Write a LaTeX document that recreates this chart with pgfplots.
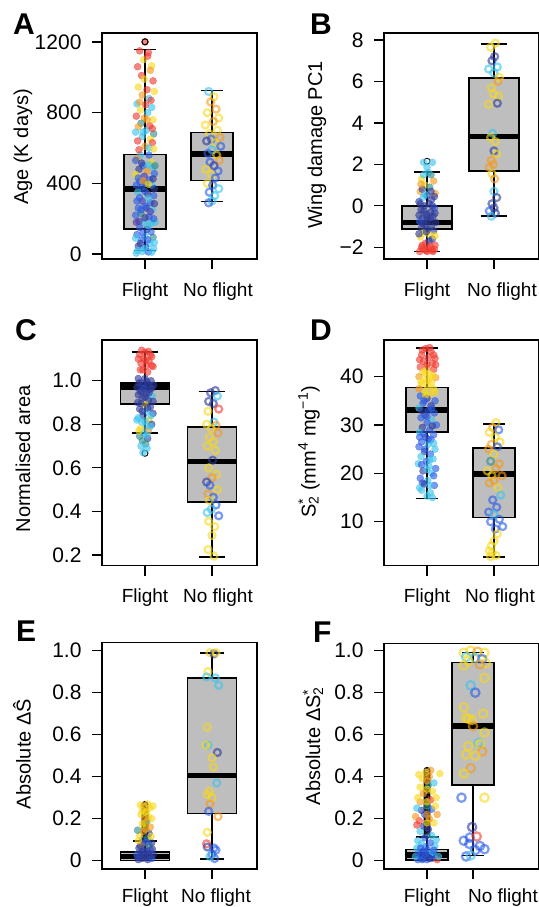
\documentclass[border=0pt]{standalone}
\usepackage{fontspec}
\setmainfont{Liberation Sans}
\usepackage{pgfplots}
\pgfplotsset{compat=1.18}

\definecolor{cR}{HTML}{F03C32}
\definecolor{cO}{HTML}{F59A1E}
\definecolor{cY}{HTML}{F8D81A}
\definecolor{cC}{HTML}{3CC4EE}
\definecolor{cB}{HTML}{2A5CE8}
\definecolor{cN}{HTML}{2E3C9C}
\definecolor{cT}{HTML}{2F8F8A}
\definecolor{cP}{HTML}{4A3AB0}
\definecolor{boxgray}{HTML}{BEBEBE}

\pgfplotsset{
  panel/.style={
    scale only axis, width=155pt, height=226pt,
    xmin=0.358, xmax=2.672,
    xtick={1,2}, xticklabels={Flight,\hspace*{12pt}No flight},
    axis line style={line width=1.2pt},
    tick align=outside, major tick length=10pt,
    tick style={line width=1.2pt, black},
    xtick pos=bottom, ytick pos=left,
    xticklabel style={font=\fontsize{19}{22}\selectfont, yshift=-10pt},
    yticklabel style={font=\fontsize{21}{24}\selectfont, xshift=-7pt},
    /pgf/number format/assume math mode=true,
  },
  pts/.style={only marks, scatter, scatter src=explicit symbolic,
    scatter/classes={R={cR},O={cO},Y={cY},C={cC},B={cB},N={cN},T={cT},P={cP}}},
  fl/.style={pts, mark=*, mark size=3.5pt, mark options={opacity=0.62}},
  nf/.style={pts, mark=o, mark size=3.5pt, mark options={line width=2.2pt, opacity=0.62}},
  bf/.style={fill=boxgray, draw=none},
  bl/.style={draw=black, line width=1.6pt, line cap=rect, line join=miter},
  md/.style={black, line width=5.5pt},
  wk/.style={black, line width=1.6pt, unbounded coords=jump},
  outl/.style={only marks, mark=o, mark size=3pt, mark options={line width=0.9pt, black}},
}

\begin{document}
\begin{tikzpicture}
\useasboundingbox (0pt,0pt) rectangle (538pt,907pt);

% ---------------- A
\begin{axis}[panel, at={(102pt,648pt)}, ymin=-28, ymax=1251,
  ytick={0,400,800,1200}, yticklabels={0,400,800,1200}]
\addplot[bf] coordinates {(0.685,141) (1.315,141) (1.315,563) (0.685,563)};
\addplot[bf] coordinates {(1.685,416) (2.315,416) (2.315,688) (1.685,688)};
\addplot[outl] coordinates {(1,1201)};
\addplot[fl] table[meta=c] {
x y c
0.92 1150 R
1.05 1140 R
0.98 1100 Y
1.10 1065 Y
1.08 1040 O
0.95 1010 R
1.12 980 R
0.90 945 Y
1.03 930 R
1.14 920 Y
0.96 900 O
1.06 880 C
0.88 850 C
1.01 845 R
1.10 830 C
0.93 815 Y
1.04 800 C
0.87 780 R
0.99 770 O
1.12 760 Y
0.94 740 T
1.07 725 R
0.90 720 O
1.02 700 C
1.13 680 T
0.96 665 C
1.08 650 Y
0.89 640 R
1.11 630 R
1.00 610 O
0.93 560 C
1.06 560 B
0.88 540 O
1.09 520 Y
0.97 500 B
1.12 490 C
0.91 480 N
1.03 470 O
1.14 455 B
0.86 450 Y
0.99 440 P
1.07 420 B
0.92 410 B
1.01 400 N
1.10 390 C
0.95 380 B
0.89 350 C
1.04 340 N
1.13 330 B
0.96 300 P
1.08 290 B
0.90 260 B
1.02 260 N
1.11 250 C
0.94 230 T
1.06 210 B
0.87 180 P
0.98 180 C
1.09 175 C
1.15 180 C
0.92 150 B
1.03 140 N
0.88 110 B
1.00 100 C
1.12 95 T
0.95 80 B
1.07 60 C
0.90 45 N
1.01 40 B
1.13 30 C
0.96 15 C
1.05 12 B
0.89 20 C
0.86 530 B
0.95 515 N
1.05 505 C
1.15 500 T
0.90 430 B
1.12 425 N
0.97 415 O
1.05 395 Y
0.87 390 B
1.14 370 N
1.00 355 B
0.92 320 B
1.05 315 C
0.88 300 B
1.14 285 N
1.00 270 B
0.94 250 B
1.08 240 P
0.86 220 B
1.00 205 N
1.13 200 B
0.91 185 P
1.05 160 C
0.97 120 B
1.09 125 B
0.86 90 C
1.04 80 B
0.93 60 N
1.14 65 C
0.99 30 C
1.10 10 C
0.87 5 C
1.06 600 C
0.91 590 R
1.13 595 Y
0.97 690 C
1.11 710 R
0.86 690 C
1.03 760 O
0.92 860 O
1.09 870 R
0.99 990 Y
1.04 1120 R
0.89 1060 R
1.00 1201 R
};
\addplot[nf] table[meta=c] {
x y c
1.95 920 C
2.03 890 Y
1.98 860 O
2.06 820 O
1.93 800 Y
2.10 770 Y
2.02 750 O
1.90 730 Y
2.08 700 Y
1.96 680 Y
2.12 660 O
1.99 650 B
1.92 640 N
2.05 630 Y
2.13 610 B
2.00 590 C
1.94 570 B
2.07 560 Y
2.11 530 O
1.97 520 B
2.03 500 N
1.91 480 Y
2.09 470 B
1.99 450 Y
2.05 430 B
1.93 400 Y
2.01 390 B
2.10 370 C
1.96 350 B
2.04 330 C
2.00 300 C
1.95 290 B
};
\addplot[outl] coordinates {(1,1201)};
\addplot[bl] coordinates {(0.685,141) (1.315,141) (1.315,563) (0.685,563) (0.685,141)};
\addplot[bl] coordinates {(1.685,416) (2.315,416) (2.315,688) (1.685,688) (1.685,416)};
\addplot[md] coordinates {(0.685,369) (1.315,369)};
\addplot[md] coordinates {(1.685,565) (2.315,565)};
\addplot[wk] coordinates {(1,563) (1,1157) (1,nan) (0.83,1157) (1.17,1157) (1,nan) (1,141) (1,19) (1,nan) (0.83,19) (1.17,19)};
\addplot[wk] coordinates {(2,688) (2,925) (2,nan) (1.83,925) (2.17,925) (2,nan) (2,416) (2,298) (2,nan) (1.83,298) (2.17,298)};
\end{axis}

% ---------------- B
\begin{axis}[panel, at={(384pt,648pt)}, ymin=-2.563, ymax=8.338,
  xticklabels={Flight,\hspace*{16pt}No flight},
  ytick={-2,0,2,4,6,8}, yticklabels={−2,0,2,4,6,8}]
\addplot[bf] coordinates {(0.625,-1.13) (1.375,-1.13) (1.375,0.0) (0.625,0.0)};
\addplot[bf] coordinates {(1.625,1.68) (2.375,1.68) (2.375,6.18) (1.625,6.18)};
\addplot[outl] coordinates {(1,2.15)};
\addplot[fl] table[meta=c] {
x y c
0.95 2.1 C
1.08 2.1 C
1.02 1.6 C
0.92 1.3 Y
1.10 1.2 O
0.97 1.0 Y
1.04 0.9 T
0.90 0.7 O
1.12 0.6 O
1.00 0.5 N
0.94 0.4 C
1.07 0.3 N
0.88 0.2 N
1.03 0.1 N
0.96 0.0 N
1.11 -0.1 B
0.91 -0.2 N
1.05 -0.3 N
0.99 -0.4 N
1.09 -0.5 N
0.93 -0.6 N
1.02 -0.7 N
0.89 -0.75 B
1.13 -0.8 N
0.97 -0.9 N
1.06 -1.0 N
0.92 -1.05 N
1.01 -1.15 N
1.10 -1.2 N
0.95 -1.3 Y
1.04 -1.4 Y
0.90 -1.5 Y
1.08 -1.6 N
0.98 -1.8 R
1.12 -1.9 R
0.92 -2.0 R
1.03 -2.05 R
0.95 -2.1 R
1.07 -2.15 R
0.89 -2.2 R
1.00 -2.2 R
1.11 -2.1 R
0.93 0.8 N
1.06 0.7 N
0.97 0.55 C
1.11 0.45 N
0.90 0.1 N
1.08 0.0 N
0.95 -0.25 N
1.00 -0.55 N
0.88 -0.45 N
1.12 -0.35 N
0.94 -0.85 N
1.05 -0.6 N
0.99 -1.25 N
1.12 -1.45 Y
0.88 -1.35 N
1.03 -1.7 N
0.93 -1.9 R
1.05 -1.95 R
0.99 -2.15 R
1.09 -2.2 R
0.95 1.5 C
1.06 1.5 T
1.00 1.85 C
0.91 1.05 O
};
\addplot[nf] table[meta=c] {
x y c
2.02 7.85 Y
1.95 7.65 Y
2.01 7.2 N
1.97 7.0 N
2.05 6.7 C
1.92 6.6 C
2.00 6.4 C
2.08 6.2 Y
2.06 6.0 O
1.96 5.7 Y
1.99 5.4 Y
2.07 5.3 Y
2.05 4.95 N
1.92 4.9 Y
1.98 3.5 C
1.95 3.3 Y
2.02 3.1 Y
2.00 2.65 N
2.04 2.5 Y
1.96 2.2 O
1.99 2.0 O
1.93 1.85 O
1.97 1.55 Y
2.01 1.3 O
2.00 0.7 C
2.04 0.4 N
1.97 0.1 N
2.00 -0.1 N
1.93 -0.25 B
2.02 -0.35 N
1.96 -0.5 C
};
\addplot[bl] coordinates {(0.625,-1.13) (1.375,-1.13) (1.375,0.0) (0.625,0.0) (0.625,-1.13)};
\addplot[bl] coordinates {(1.625,1.68) (2.375,1.68) (2.375,6.18) (1.625,6.18) (1.625,1.68)};
\addplot[md] coordinates {(0.625,-0.81) (1.375,-0.81)};
\addplot[md] coordinates {(1.625,3.35) (2.375,3.35)};
\addplot[wk] coordinates {(1,0.0) (1,1.62) (1,nan) (0.805,1.62) (1.195,1.62) (1,nan) (1,-1.13) (1,-2.21) (1,nan) (0.805,-2.21) (1.195,-2.21)};
\addplot[wk] coordinates {(2,6.18) (2,7.82) (2,nan) (1.805,7.82) (2.195,7.82) (2,nan) (2,1.68) (2,-0.49) (2,nan) (1.805,-0.49) (2.195,-0.49)};
\end{axis}

% ---------------- C
\begin{axis}[panel, at={(102pt,341.3pt)}, height=225.7pt, ymin=0.151, ymax=1.187,
  ytick={0.2,0.4,0.6,0.8,1.0}, yticklabels={0.2,0.4,0.6,0.8,1.0}]
\addplot[bf] coordinates {(0.635,0.893) (1.365,0.893) (1.365,0.989) (0.635,0.989)};
\addplot[bf] coordinates {(1.635,0.443) (2.365,0.443) (2.365,0.789) (1.635,0.789)};
\addplot[outl] coordinates {(1,0.667)};
\addplot[fl] table[meta=c] {
x y c
0.95 1.14 R
1.05 1.135 R
1.00 1.13 R
0.92 1.12 R
1.10 1.11 R
0.98 1.10 R
1.06 1.09 R
0.94 1.08 R
1.02 1.07 R
1.12 1.065 R
0.97 1.05 R
1.04 1.04 R
0.90 1.01 N
1.00 1.01 N
1.09 1.00 N
0.95 0.99 N
1.04 0.985 N
1.13 0.98 N
0.88 0.97 N
0.98 0.965 B
1.07 0.96 N
0.93 0.95 N
1.02 0.94 N
1.11 0.93 C
0.96 0.92 N
1.05 0.91 N
0.89 0.90 N
1.00 0.89 Y
1.08 0.88 N
0.92 0.87 N
1.03 0.86 C
1.12 0.85 N
0.97 0.84 N
0.90 0.83 C
1.06 0.82 Y
0.95 0.81 C
1.10 0.80 N
1.01 0.79 C
0.93 0.78 Y
1.05 0.77 O
0.98 0.76 C
0.92 0.745 T
1.04 0.735 N
0.96 0.725 T
1.01 0.71 T
0.94 0.70 C
1.03 0.69 C
0.97 0.67 C
0.91 0.99 N
1.03 0.995 N
1.10 0.965 N
0.96 0.955 N
1.06 0.945 N
0.90 0.935 N
1.00 0.925 N
1.12 0.905 N
0.94 0.895 N
1.04 0.875 N
0.96 0.86 N
1.09 0.84 C
0.88 0.82 C
1.00 0.815 C
1.08 0.79 C
0.91 0.77 Y
1.03 0.75 C
0.90 1.10 R
1.08 1.12 R
1.01 1.095 R
0.93 1.05 R
1.10 1.07 R
};
\addplot[nf] table[meta=c] {
x y c
2.05 0.955 N
1.98 0.945 N
2.08 0.93 C
1.95 0.905 N
2.02 0.895 N
2.10 0.87 R
1.94 0.86 Y
2.03 0.81 C
1.92 0.80 Y
2.06 0.795 O
1.99 0.78 Y
2.09 0.76 O
1.96 0.74 Y
2.02 0.72 Y
1.93 0.70 Y
2.05 0.68 Y
2.01 0.635 N
1.95 0.60 Y
2.07 0.57 Y
2.00 0.555 O
1.92 0.535 N
1.97 0.52 B
2.08 0.50 Y
1.94 0.48 O
2.02 0.465 B
1.96 0.45 Y
2.06 0.43 B
1.99 0.41 C
1.93 0.395 C
2.10 0.38 B
1.95 0.355 Y
2.04 0.33 Y
2.00 0.29 Y
1.94 0.225 Y
2.03 0.195 Y
};
\addplot[bl] coordinates {(0.635,0.893) (1.365,0.893) (1.365,0.989) (0.635,0.989) (0.635,0.893)};
\addplot[bl] coordinates {(1.635,0.443) (2.365,0.443) (2.365,0.789) (1.635,0.789) (1.635,0.443)};
\addplot[md] coordinates {(0.635,0.971) (1.365,0.971)};
\addplot[md] coordinates {(1.635,0.630) (2.365,0.630)};
\addplot[wk] coordinates {(1,0.989) (1,1.132) (1,nan) (0.8,1.132) (1.2,1.132) (1,nan) (1,0.893) (1,0.761) (1,nan) (0.8,0.761) (1.2,0.761)};
\addplot[wk] coordinates {(2,0.789) (2,0.950) (2,nan) (1.8,0.950) (2.2,0.950) (2,nan) (2,0.443) (2,0.191) (2,nan) (1.8,0.191) (2.2,0.191)};
\end{axis}

% ---------------- D
\begin{axis}[panel, at={(384pt,341.3pt)}, height=225.7pt, ymin=0.9, ymax=47.59,
  ytick={10,20,30,40}, yticklabels={10,20,30,40}]
\addplot[bf] coordinates {(0.685,28.5) (1.315,28.5) (1.315,37.8) (0.685,37.8)};
\addplot[bf] coordinates {(1.685,10.9) (2.315,10.9) (2.315,25.3) (1.685,25.3)};
\addplot[fl] table[meta=c] {
x y c
0.98 45.8 R
1.06 45.2 R
0.92 44.5 R
1.02 44.0 R
1.12 43.8 R
0.95 43.2 R
1.08 42.8 R
0.90 42.0 R
1.00 41.8 O
1.10 41.5 R
0.94 41.0 Y
1.04 40.5 Y
0.88 40.0 O
0.99 39.5 Y
1.13 39.8 O
1.07 38.8 Y
0.92 38.5 Y
1.01 38.0 Y
1.10 37.5 Y
0.96 37.0 Y
1.05 36.5 Y
0.90 36.0 B
1.00 35.5 N
1.12 35.0 B
0.94 34.5 B
1.06 34.0 N
0.88 33.5 C
1.02 33.0 B
1.11 32.5 B
0.97 32.0 N
0.91 31.5 B
1.07 31.0 C
1.00 30.5 B
1.14 30.0 B
0.93 29.5 N
1.04 29.0 B
0.89 28.5 C
1.10 28.0 B
0.98 27.5 N
1.06 27.0 B
0.92 26.5 B
1.02 26.0 C
0.88 25.5 B
1.12 25.0 C
0.96 24.5 N
1.05 24.0 B
0.91 23.5 C
1.09 23.0 C
0.99 22.5 B
0.87 22.0 C
1.03 21.5 C
1.13 21.0 B
0.94 20.5 N
1.07 20.0 C
0.90 19.0 B
1.01 18.5 C
0.93 18.0 B
1.11 17.5 B
0.89 17.0 C
1.05 16.0 C
1.08 15.0 C
0.93 45.5 R
1.04 46.0 R
1.10 44.5 R
0.89 43.5 R
1.00 42.5 R
1.13 42.5 R
0.97 40.8 Y
1.09 40.2 Y
0.91 39.0 Y
1.02 39.2 Y
0.88 37.5 O
0.98 36.2 Y
1.12 36.8 Y
0.96 35.0 B
1.07 33.5 B
0.92 33.0 N
1.00 31.8 B
1.08 29.8 N
0.95 28.2 B
1.02 27.0 B
0.89 27.5 B
1.10 26.2 C
0.97 25.0 B
1.04 22.8 C
0.92 21.8 B
1.00 20.8 C
1.10 19.5 B
0.96 17.8 N
1.04 17.5 C
0.92 16.5 C
1.00 15.3 C
};
\addplot[nf] table[meta=c] {
x y c
2.03 30.5 Y
1.98 29.5 O
2.07 29.0 B
1.93 28.5 Y
2.02 27.5 Y
2.09 26.5 Y
1.96 26.0 O
2.05 25.5 B
1.92 25.0 O
2.00 24.0 Y
1.95 22.5 T
2.08 22.0 O
2.03 21.0 O
1.90 20.5 Y
1.97 19.5 Y
2.12 19.5 O
2.00 18.5 O
1.93 18.0 O
2.06 17.0 Y
2.10 15.5 C
1.98 14.5 B
2.04 13.0 B
1.92 12.0 B
2.00 11.5 C
2.08 10.5 B
1.95 10.0 B
2.13 9.0 B
2.02 8.5 B
2.05 7.5 Y
2.00 6.0 Y
1.96 5.0 Y
1.93 4.0 Y
1.97 3.5 Y
2.03 3.0 Y
1.95 2.8 Y
};
\addplot[bl] coordinates {(0.685,28.5) (1.315,28.5) (1.315,37.8) (0.685,37.8) (0.685,28.5)};
\addplot[bl] coordinates {(1.685,10.9) (2.315,10.9) (2.315,25.3) (1.685,25.3) (1.685,10.9)};
\addplot[md] coordinates {(0.685,33.1) (1.315,33.1)};
\addplot[md] coordinates {(1.685,19.9) (2.315,19.9)};
\addplot[wk] coordinates {(1,37.8) (1,45.9) (1,nan) (0.84,45.9) (1.16,45.9) (1,nan) (1,28.5) (1,14.8) (1,nan) (0.84,14.8) (1.16,14.8)};
\addplot[wk] coordinates {(2,25.3) (2,30.2) (2,nan) (1.84,30.2) (2.16,30.2) (2,nan) (2,10.9) (2,2.76) (2,nan) (1.84,2.76) (2.16,2.76)};
\end{axis}

% ---------------- E
\begin{axis}[panel, at={(102pt,38pt)}, height=226.7pt, ymin=-0.0397, ymax=1.0397,
  xticklabels={Flight,\hspace*{8pt}No flight}, xticklabel style={yshift=4pt},
  ytick={0,0.2,0.4,0.6,0.8,1.0}, yticklabels={0,0.2,0.4,0.6,0.8,1.0}]
\addplot[bf] coordinates {(0.635,0.0) (1.365,0.0) (1.365,0.040) (0.635,0.040)};
\addplot[bf] coordinates {(1.635,0.224) (2.365,0.224) (2.365,0.870) (1.635,0.870)};
\addplot[outl] coordinates {(1,0.100) (1,0.106) (1,0.112) (1,0.118) (1,0.124) (1,0.130) (1,0.136) (1,0.142) (1,0.148) (1,0.154) (1,0.160) (1,0.166) (1,0.172) (1,0.178) (1,0.184) (1,0.190) (1,0.196) (1,0.202) (1,0.208) (1,0.214) (1,0.220) (1,0.226) (1,0.232) (1,0.238) (1,0.244) (1,0.250) (1,0.256) (1,0.262) (1,0.268)};
\addplot[fl] table[meta=c] {
x y c
0.90 0.005 N
0.96 0.01 N
1.04 0.005 N
1.10 0.01 B
0.93 0.02 N
1.00 0.015 N
1.07 0.02 N
0.88 0.03 B
0.98 0.03 N
1.12 0.03 N
0.94 0.04 N
1.03 0.045 N
1.08 0.05 B
0.91 0.06 N
1.00 0.065 N
1.06 0.075 T
0.95 0.08 O
1.10 0.085 N
0.97 0.10 N
1.04 0.11 T
0.92 0.12 Y
1.06 0.13 N
0.89 0.145 T
1.01 0.15 Y
1.08 0.16 O
0.96 0.175 Y
1.03 0.19 T
1.10 0.20 Y
0.94 0.22 Y
1.02 0.235 Y
1.07 0.25 Y
0.98 0.26 O
1.12 0.26 Y
0.93 0.265 Y
1.04 0.27 Y
0.89 0.015 N
1.05 0.035 N
0.97 0.045 N
1.11 0.055 N
0.93 0.07 N
1.02 0.09 B
0.90 0.095 Y
1.09 0.115 Y
0.98 0.14 O
1.05 0.21 Y
0.96 0.24 Y
1.00 0.18 Y
1.00 0.20 O
1.00 0.23 Y
};
\addplot[nf] table[meta=c] {
x y c
1.97 0.99 Y
2.03 0.985 N
2.06 0.99 Y
1.94 0.90 Y
1.92 0.875 C
2.05 0.87 C
2.10 0.835 C
1.93 0.635 Y
1.94 0.55 C
1.91 0.55 Y
2.08 0.515 N
2.00 0.49 Y
2.02 0.445 Y
2.07 0.37 C
1.96 0.33 Y
1.93 0.315 Y
2.00 0.30 Y
1.97 0.27 O
1.95 0.235 B
2.09 0.21 O
1.93 0.135 Y
1.92 0.08 R
1.93 0.065 N
2.03 0.06 B
2.06 0.05 B
2.00 0.03 B
2.04 0.01 B
1.97 0.02 C
};
\addplot[bl] coordinates {(0.635,0.0) (1.365,0.0) (1.365,0.040) (0.635,0.040) (0.635,0.0)};
\addplot[bl] coordinates {(1.635,0.224) (2.365,0.224) (2.365,0.870) (1.635,0.870) (1.635,0.224)};
\addplot[md] coordinates {(0.635,0.019) (1.365,0.019)};
\addplot[md] coordinates {(1.635,0.406) (2.365,0.406)};
\addplot[wk] coordinates {(1,0.040) (1,0.094) (1,nan) (0.815,0.094) (1.185,0.094)};
\addplot[wk] coordinates {(2,0.870) (2,0.990) (2,nan) (1.815,0.990) (2.185,0.990) (2,nan) (2,0.224) (2,0.008) (2,nan) (1.815,0.008) (2.185,0.008)};
\end{axis}

% ---------------- F
\begin{axis}[panel, at={(384pt,38pt)}, height=225.7pt, xmin=0.065, xmax=3.435, ymin=-0.0397, ymax=1.035,
  xticklabels={Flight,\hspace*{60pt}No flight}, xticklabel style={yshift=4pt},
  ytick={0,0.2,0.4,0.6,0.8,1.0}, yticklabels={0,0.2,0.4,0.6,0.8,1.0}]
\addplot[bf] coordinates {(0.545,0.003) (1.455,0.003) (1.455,0.054) (0.545,0.054)};
\addplot[bf] coordinates {(1.545,0.360) (2.455,0.360) (2.455,0.943) (1.545,0.943)};
\addplot[outl] coordinates {(1,0.120) (1,0.128) (1,0.136) (1,0.144) (1,0.152) (1,0.160) (1,0.168) (1,0.176) (1,0.184) (1,0.192) (1,0.200) (1,0.208) (1,0.216) (1,0.224) (1,0.232) (1,0.240) (1,0.248) (1,0.256) (1,0.264) (1,0.272) (1,0.280) (1,0.288) (1,0.296) (1,0.304) (1,0.312) (1,0.320) (1,0.328) (1,0.336) (1,0.344) (1,0.352) (1,0.360) (1,0.368) (1,0.376) (1,0.384) (1,0.392) (1,0.400) (1,0.408) (1,0.416) (1,0.424) (1,0.430)};
\addplot[fl] table[meta=c] {
x y c
0.80 0.005 B
0.90 0.01 N
1.00 0.005 B
1.10 0.01 B
1.22 0.005 R
0.75 0.02 C
0.85 0.025 B
0.95 0.02 N
1.05 0.03 B
1.15 0.025 B
1.25 0.02 C
0.82 0.04 B
0.92 0.045 N
1.02 0.05 B
1.12 0.04 C
0.78 0.06 C
0.97 0.065 B
1.17 0.07 C
0.88 0.08 C
1.07 0.085 B
0.80 0.095 C
1.20 0.10 C
0.95 0.11 B
1.10 0.12 C
0.85 0.14 C
1.03 0.15 N
0.78 0.17 R
0.93 0.165 N
1.15 0.18 Y
0.83 0.19 R
1.05 0.20 O
0.75 0.21 O
0.95 0.22 B
1.22 0.22 O
0.88 0.24 N
1.10 0.245 B
0.78 0.25 C
1.00 0.26 T
1.18 0.26 Y
0.85 0.28 O
1.08 0.29 R
0.80 0.30 Y
1.20 0.30 Y
0.92 0.32 O
1.12 0.33 Y
0.85 0.35 Y
1.03 0.36 T
1.15 0.37 C
0.90 0.39 Y
1.05 0.40 O
0.82 0.41 Y
1.28 0.415 Y
0.97 0.42 Y
1.08 0.43 O
1.00 0.18 Y
1.00 0.22 O
1.00 0.28 Y
1.00 0.34 Y
1.00 0.38 O
0.90 0.005 B
1.05 0.012 N
0.97 0.035 B
1.15 0.05 B
0.86 0.06 B
};
\addplot[nf, mark size=4.2pt] table[meta=c] {
x y c
1.80 0.99 Y
1.95 1.00 Y
2.10 0.995 O
2.25 0.99 Y
1.85 0.97 C
2.05 0.965 C
2.20 0.96 B
1.90 0.95 Y
2.28 0.94 Y
2.15 0.935 O
1.80 0.93 Y
2.25 0.87 Y
1.95 0.835 C
2.05 0.80 B
1.80 0.73 Y
2.22 0.70 Y
1.90 0.675 Y
1.98 0.67 Y
1.85 0.68 Y
2.00 0.64 O
2.25 0.61 Y
2.12 0.56 C
2.15 0.555 Y
1.90 0.545 Y
2.20 0.52 O
1.85 0.505 Y
2.05 0.50 Y
1.95 0.44 O
1.80 0.415 Y
1.75 0.30 B
2.25 0.30 Y
1.98 0.16 N
1.93 0.11 B
2.08 0.115 R
1.80 0.095 B
2.15 0.07 B
1.92 0.08 B
2.25 0.055 B
2.05 0.05 B
1.85 0.02 B
1.95 0.025 C
};
\addplot[bl] coordinates {(0.545,0.003) (1.455,0.003) (1.455,0.054) (0.545,0.054) (0.545,0.003)};
\addplot[bl] coordinates {(1.545,0.360) (2.455,0.360) (2.455,0.943) (1.545,0.943) (1.545,0.360)};
\addplot[md] coordinates {(0.545,0.027) (1.455,0.027)};
\addplot[md] coordinates {(1.545,0.641) (2.455,0.641)};
\addplot[wk] coordinates {(1,0.054) (1,0.114) (1,nan) (0.75,0.114) (1.25,0.114)};
\addplot[wk] coordinates {(2,0.943) (2,0.992) (2,nan) (1.76,0.992) (2.24,0.992) (2,nan) (2,0.360) (2,0.024) (2,nan) (1.76,0.024) (2.24,0.024)};
\end{axis}

% panel letters and y labels
\begin{scope}[every node/.style={inner sep=0pt, font=\fontsize{30}{30}\selectfont\bfseries, anchor=base west}]
\node at (13pt,872pt) {A};
\node at (310pt,872pt) {B};
\node at (15pt,566pt) {C};
\node at (310pt,566pt) {D};
\node at (16pt,265pt) {E};
\node at (313pt,264pt) {F};
\end{scope}
\begin{scope}[every node/.style={rotate=90, font=\fontsize{20}{24}\selectfont, anchor=center}]
\node at (23pt,760pt) {Age (K days)};
\node at (317pt,762pt) {Wing damage PC1};
\node at (23pt,448pt) {Normalised area};
\node at (309pt,455pt) {S\rlap{\textsuperscript{*}}\textsubscript{2} (mm\textsuperscript{4} mg\textsuperscript{−1})};
\node at (22pt,153pt) {Absolute ΔŜ};
\node at (313pt,161pt) {Absolute ΔS\rlap{\textsuperscript{*}}\textsubscript{2}};
\end{scope}
\end{tikzpicture}
\end{document}
